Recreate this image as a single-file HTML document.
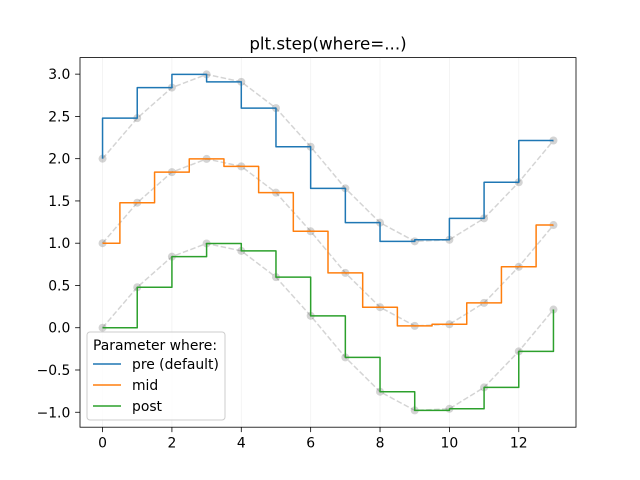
<!DOCTYPE html>
<html><head><meta charset="utf-8"><style>
body{margin:0;background:#fff}
svg{display:block;font-family:"DejaVu Sans","Liberation Sans",sans-serif}
</style></head><body>
<svg id="c" width="640" height="480" viewBox="0 0 640 480"></svg>
<script>
const xs=[0,1,2,3,4,5,6,7,8,9,10,11,12,13];
const base=[0,0.479,0.841,0.997,0.909,0.598,0.141,-0.351,-0.757,-0.978,-0.959,-0.706,-0.279,0.215];
const offsets=[2,1,0];
const seriesNames=['pre (default)','mid','post'];
const seriesModes=['pre','mid','post'];
const colors=['#1f77b4','#ff7f0e','#2ca02c'];
const xTicks=[0,2,4,6,8,10,12];
const yTicks=[-1.0,-0.5,0.0,0.5,1.0,1.5,2.0,2.5,3.0];

const L=80,R=576,T=57.6,B=427.2;
const xmin=-0.65,xmax=13.65;
let all=[];offsets.forEach(o=>base.forEach(v=>all.push(v+o)));
let dmin=Math.min(...all),dmax=Math.max(...all),m=(dmax-dmin)*0.05;
const ymin=dmin-m,ymax=dmax+m;
const X=v=>L+(v-xmin)/(xmax-xmin)*(R-L);
const Y=v=>B-(v-ymin)/(ymax-ymin)*(B-T);
const svg=document.getElementById('c');const NS='http://www.w3.org/2000/svg';
function el(t,a,p){const e=document.createElementNS(NS,t);for(const k in a)e.setAttribute(k,a[k]);(p||svg).appendChild(e);return e;}
xTicks.forEach(t=>{const g=el('line',{x1:X(t),x2:X(t),y1:T,y2:B,stroke:'#f2f2f2','stroke-width':0.8});
});
offsets.forEach(o=>{
 const pts=xs.map((x,i)=>X(x)+','+Y(base[i]+o)).join(' ');
 const pl=el('polyline',{points:pts,fill:'none',stroke:'#000','stroke-opacity':0.17,'stroke-width':1.5,'stroke-dasharray':'5.55,2.4'});
 
 xs.forEach((x,i)=>{const c=el('circle',{cx:X(x),cy:Y(base[i]+o),r:4,fill:'#000','fill-opacity':0.17,stroke:'none'});
 });
});
offsets.forEach((o,s)=>{
 const ys=base.map(v=>v+o);const mode=seriesModes[s];let d='M'+X(xs[0])+','+Y(ys[0]);
 for(let i=1;i<xs.length;i++){
  if(mode==='pre'){d+=' L'+X(xs[i-1])+','+Y(ys[i])+' L'+X(xs[i])+','+Y(ys[i]);}
  else if(mode==='post'){d+=' L'+X(xs[i])+','+Y(ys[i-1])+' L'+X(xs[i])+','+Y(ys[i]);}
  else{const mx=(xs[i-1]+xs[i])/2;d+=' L'+X(mx)+','+Y(ys[i-1])+' L'+X(mx)+','+Y(ys[i]);}
 }
 if(mode==='mid')d+=' L'+X(xs[xs.length-1])+','+Y(ys[ys.length-1]);
 const p=el('path',{d:d,fill:'none',stroke:colors[s],'stroke-width':1.5,'stroke-linejoin':'round'});
 
});
const fr=el('rect',{x:L,y:T,width:R-L,height:B-T,fill:'none',stroke:'#000','stroke-width':0.8});

xTicks.forEach(t=>{el('line',{x1:X(t),x2:X(t),y1:B,y2:B+4.9,stroke:'#000','stroke-width':0.8});
 const tx=el('text',{x:X(t),y:B+20.5,'text-anchor':'middle','font-size':13.9});tx.textContent=t;
 });
yTicks.forEach(t=>{el('line',{x1:L-4.9,x2:L,y1:Y(t),y2:Y(t),stroke:'#000','stroke-width':0.8});
 const tx=el('text',{x:L-9.7,y:Y(t)+5,'text-anchor':'end','font-size':13.9});tx.textContent=(t<0?'\u2212':'')+Math.abs(t).toFixed(1);
 });
const ti=el('text',{x:(L+R)/2,y:T-8,'text-anchor':'middle','font-size':16.7});ti.textContent='plt.step(where=...)';

const lg=el('g',{});
el('rect',{x:87,y:332,width:138,height:88,rx:3,fill:'#fff','fill-opacity':0.8,stroke:'#ccc'},lg);
const lt=el('text',{x:93,y:350,'font-size':13.9},lg);lt.textContent='Parameter where:';
seriesNames.forEach((n,i)=>{const yy=364+i*21;
 el('line',{x1:93,x2:121,y1:yy,y2:yy,stroke:colors[i],'stroke-width':1.5},lg);
 const t=el('text',{x:132,y:yy+5,'font-size':13.9},lg);t.textContent=n;
 });
</script>
</body></html>
